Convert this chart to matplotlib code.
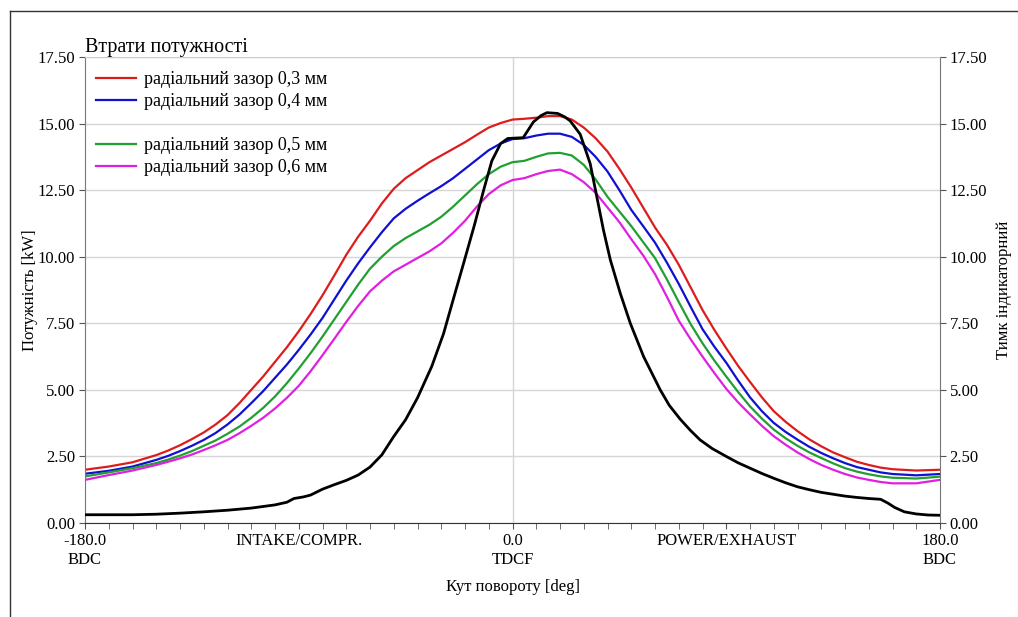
import numpy as np
import matplotlib.pyplot as plt
from matplotlib.lines import Line2D

plt.rcParams['font.family'] = ['Liberation Serif', 'DejaVu Serif']

# кут повороту для кривих втрат
angle = [-180, -170, -160, -150, -145, -140, -135, -130, -125, -120, -115, -110, -105, -100,
         -95, -90, -85, -80, -75, -70, -65, -60, -55, -50, -45, -40, -35, -30, -25, -20, -15,
         -10, -5, 0, 5, 10, 15, 20, 25, 30, 35, 40, 45, 50, 55, 60, 65, 70, 75, 80, 85, 90, 95,
         100, 105, 110, 115, 120, 125, 130, 135, 140, 145, 150, 155, 160, 170, 180]

loss_03 = [2.0, 2.12, 2.28, 2.55, 2.72, 2.92, 3.15, 3.4, 3.7, 4.05, 4.5, 5.0, 5.5, 6.05,
           6.6, 7.2, 7.85, 8.55, 9.3, 10.07, 10.75, 11.35, 12.0, 12.55, 12.95, 13.25, 13.55, 13.8, 14.05, 14.3, 14.58,
           14.85, 15.02, 15.15, 15.18, 15.22, 15.28, 15.28, 15.15, 14.85, 14.45, 13.95, 13.3, 12.6, 11.85, 11.1, 10.45, 9.7, 8.85, 8.0, 7.25, 6.56, 5.9,
           5.3, 4.72, 4.2, 3.8, 3.45, 3.14, 2.88, 2.65, 2.47, 2.3, 2.18, 2.08, 2.02, 1.97, 2.0]
loss_04 = [1.85, 1.96, 2.12, 2.37, 2.52, 2.7, 2.9, 3.12, 3.38, 3.7, 4.07, 4.5, 4.95, 5.45,
           5.95, 6.5, 7.08, 7.7, 8.4, 9.1, 9.75, 10.35, 10.92, 11.44, 11.8, 12.1, 12.38, 12.65, 12.95, 13.3, 13.65,
           14.0, 14.25, 14.42, 14.45, 14.55, 14.62, 14.62, 14.5, 14.2, 13.75, 13.2, 12.5, 11.76, 11.15, 10.53, 9.78, 8.98, 8.12, 7.28, 6.62, 6.02, 5.35,
           4.72, 4.2, 3.76, 3.42, 3.13, 2.86, 2.63, 2.43, 2.25, 2.1, 2.0, 1.9, 1.84, 1.79, 1.84]
loss_05 = [1.75, 1.9, 2.06, 2.25, 2.38, 2.53, 2.7, 2.9, 3.1, 3.35, 3.62, 3.95, 4.32, 4.75,
           5.25, 5.8, 6.38, 7.0, 7.65, 8.3, 8.95, 9.55, 10.0, 10.4, 10.7, 10.95, 11.2, 11.5, 11.88, 12.3, 12.72,
           13.1, 13.38, 13.55, 13.6, 13.75, 13.88, 13.9, 13.8, 13.45, 12.9, 12.25, 11.7, 11.15, 10.55, 9.95, 9.15, 8.3, 7.47, 6.75, 6.1, 5.5, 4.92,
           4.38, 3.92, 3.51, 3.18, 2.9, 2.65, 2.44, 2.24, 2.06, 1.93, 1.83, 1.75, 1.7, 1.67, 1.74]
loss_06 = [1.62, 1.8, 1.97, 2.18, 2.3, 2.43, 2.57, 2.74, 2.92, 3.12, 3.37, 3.65, 3.95, 4.3,
           4.7, 5.15, 5.7, 6.3, 6.92, 7.55, 8.15, 8.7, 9.1, 9.45, 9.7, 9.95, 10.2, 10.5, 10.9, 11.35, 11.88,
           12.35, 12.68, 12.88, 12.95, 13.1, 13.22, 13.27, 13.1, 12.8, 12.4, 11.85, 11.3, 10.66, 10.05, 9.35, 8.5, 7.6, 6.9, 6.25, 5.63, 5.04, 4.53,
           4.08, 3.65, 3.26, 2.94, 2.65, 2.4, 2.18, 2.0, 1.84, 1.71, 1.62, 1.54, 1.49, 1.49, 1.62]

# тиск індикаторний
angle_ind = [-180, -160, -150, -140, -130, -120, -110, -100, -95, -92, -88, -85, -80, -75, -70,
             -65, -60, -55, -50, -45, -40, -34, -29, -25, -20.6, -16, -12, -8.7, -5, -2, 4.5,
             8.8, 12, 14.5, 19, 22, 24.3, 28.5, 32.7, 35.5, 38.3, 41.2, 45.4, 49.6, 55.2, 62.2,
             66, 70.6, 75, 79, 84, 90, 95, 100, 105, 110, 115, 120, 125, 130, 135, 140, 145, 150,
             155, 158, 161, 165, 170, 175, 180]
pressure = [0.31, 0.31, 0.33, 0.37, 0.42, 0.48, 0.56, 0.68, 0.78, 0.92, 0.98, 1.05, 1.27, 1.44, 1.6,
            1.8, 2.1, 2.56, 3.25, 3.88, 4.7, 5.88, 7.12, 8.38, 9.75, 11.2, 12.55, 13.6, 14.25, 14.44, 14.47,
            15.06, 15.3, 15.41, 15.38, 15.25, 15.1, 14.6, 13.5, 12.25, 11.0, 9.88, 8.62, 7.5, 6.25, 5.0,
            4.42, 3.9, 3.47, 3.12, 2.8, 2.5, 2.26, 2.06, 1.86, 1.68, 1.51, 1.36, 1.25, 1.15, 1.08, 1.01, 0.96, 0.92,
            0.89, 0.75, 0.58, 0.42, 0.34, 0.3, 0.29]

labels = ['радіальний зазор 0,3 мм', 'радіальний зазор 0,4 мм',
          'радіальний зазор 0,5 мм', 'радіальний зазор 0,6 мм']
colors = ['#dd1c1c', '#1010d0', '#20a030', '#e020e0']

xticks = [-180, -90, 0, 90, 180]
xtick_labels = ['-180.0\nBDC', 'INTAKE/COMPR.', '0.0\nTDCF', 'POWER/EXHAUST', '180.0\nBDC']

fig = plt.figure(figsize=(10.18, 6.17), dpi=100)
ax = fig.add_axes([85 / 1018, 1 - 523 / 617, 855 / 1018, 466 / 617])

lines = []
for y, c, lab in zip([loss_03, loss_04, loss_05, loss_06], colors, labels):
    l, = ax.plot(angle, y, color=c, lw=1.6, label=lab, solid_joinstyle='round')
    lines.append(l)

yt = np.arange(0, 17.6, 2.5)
ax.set_xlim(-180, 180)
ax.set_ylim(0, 17.5)
ax.set_yticks(yt)
ax.set_yticklabels([f'{v:.2f}' for v in yt])
ax.set_xticks(xticks)
ax.set_xticklabels(xtick_labels, linespacing=1.3)
ax.set_xticks(np.arange(-180, 181, 10), minor=True)
ax.tick_params(axis='both', which='both', direction='out', length=4, color='#555555',
               labelsize=12, pad=3)
ax.grid(axis='y', color='#d6d6d6', lw=1)
ax.axvline(0, color='#d6d6d6', lw=1, zorder=0)
ax.set_ylabel('Потужність [kW]', fontsize=12, labelpad=0)
ax.set_xlabel('Кут повороту [deg]', fontsize=12, labelpad=8)
for s in ['left', 'right']:
    ax.spines[s].set_color('#777777')
ax.spines['bottom'].set_color('#333333')
ax.spines['top'].set_color('#cccccc')

ax2 = ax.twinx()
ax2.plot(angle_ind, pressure, color='black', lw=2, solid_joinstyle='round')
ax2.set_ylim(0, 17.5)
ax2.set_yticks(yt)
ax2.set_yticklabels([f'{v:.2f}' for v in yt])
ax2.tick_params(axis='y', direction='out', length=4, color='#555555', labelsize=12, pad=3)
ax2.set_ylabel('Тимк індикаторний', fontsize=12, labelpad=6)
for s in ax2.spines.values():
    s.set_visible(False)

blank = Line2D([], [], color='none')
ax.legend([lines[0], lines[1], blank, lines[2], lines[3]],
          [labels[0], labels[1], ' ', labels[2], labels[3]],
          loc='upper left', bbox_to_anchor=(0.005, 0.985), frameon=False, fontsize=13,
          handlelength=2.2, handletextpad=0.45, labelspacing=0.28, borderaxespad=0)

ax.text(0, 1.0, 'Втрати потужності', transform=ax.transAxes, fontsize=14.5,
        va='bottom', ha='left')

# рамка рисунка
fig.add_artist(Line2D([10 / 1018, 1], [1 - 11 / 617, 1 - 11 / 617], color='#333333', lw=1))
fig.add_artist(Line2D([10 / 1018, 10 / 1018], [0, 1 - 11 / 617], color='#333333', lw=1))

fig.savefig('out.png', dpi=100)
